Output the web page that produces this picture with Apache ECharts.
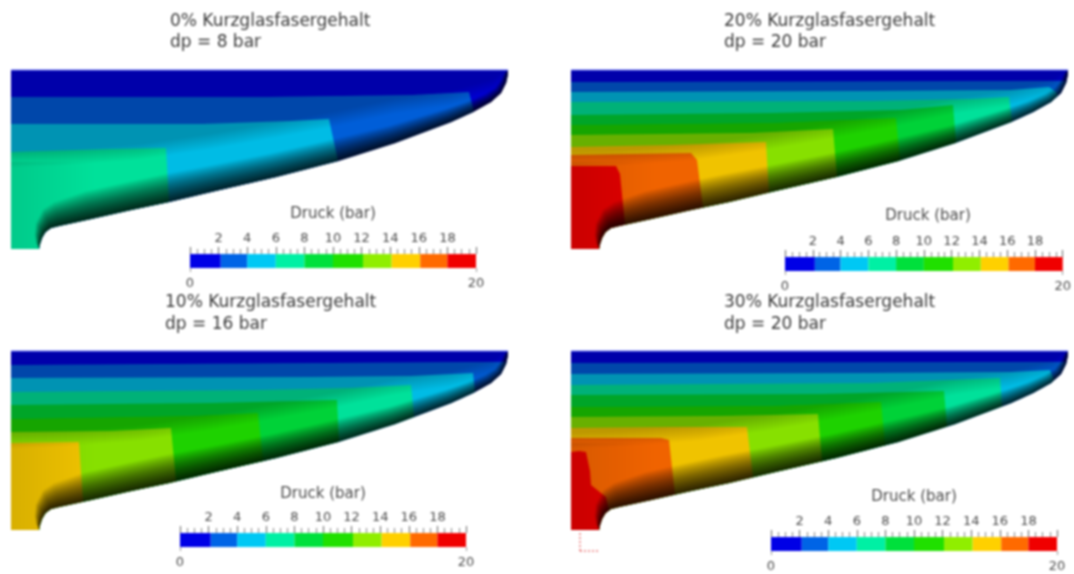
<!DOCTYPE html>
<html><head><meta charset="utf-8">
<style>html,body{margin:0;padding:0;background:#fff}#chart{width:1074px;height:574px;filter:blur(0.8px)}</style>
<script src="https://cdn.jsdelivr.net/npm/echarts@6/dist/echarts.min.js"></script>
</head><body><div id="chart"></div>
<script>
// ---- data ----
const pressureBreaks = [0,2.15,4,6,8,10,12.1,14.1,16.1,18,20];
const pressureColors = ['#0000e6','#0064e6','#00c8f4','#00f0a4','#00e03c','#20e000','#90ee00','#ffd000','#ff6a00','#f00000'];
const topTicks = [2,4,6,8,10,12,14,16,18];
const panelHeads = [['0% Kurzglasfasergehalt','dp = 8 bar'],['20% Kurzglasfasergehalt','dp = 20 bar'],['10% Kurzglasfasergehalt','dp = 16 bar'],['30% Kurzglasfasergehalt','dp = 20 bar']];
const legendTitle = 'Druck (bar)';
// channel wall, tip to inlet (length, depth)
const wallLine = [[497,0],[497,4],[495,13],[490,23],[480,32],[462,42],[440,52],[384,73],[327,91],[265,107],[200,122],[158,132],[120,140],[80,149],[48,156],[40,158],[34.5,162],[31,168],[29,174],[28,179]];
const wallShade = [0,4,6,8,10,12,14,18,22,24,26,28,28,28,24,20,13,8,4,0];
const inletCorner = [0,179];
const foldLine = [[0,90],[50,88],[128,82],[197,72],[265,60],[328,48],[384,36],[439,28],[481,17],[497,6]];
const inletDarkening = [[0,92],[85,92],[85,148],[48,156],[40,158],[34.5,162],[31,168],[29,174],[28,179],[0,179]];
// isobars: last entry is the length at which the isobar meets the wall
const isobars0 = [[[0,27],[250,27],[400,25],[458,22],[463]],[[0,54],[192,54],[280,51],[318,49],[327]],[[0,82],[100,79],[155,78],[158]]];
const isobars20 = [[[0,12],[495.5]],[[0,22],[300,21],[440,20],[478,17],[485,22],[487]],[[0,32],[300,31],[400,29],[438,27],[441]],[[0,45],[200,43],[330,40],[382,35],[385]],[[0,55],[200,53],[325,48],[329]],[[0,65],[180,63],[262,59],[266]],[[0,77],[100,75],[195,72],[198]],[[0,85],[60,84],[120,83],[126,90],[132]],[[0,96],[45,96],[49,104],[54]]];
const isobars10 = [[[0,14],[495.5]],[[0,27],[300,26],[400,25],[462,22],[464]],[[0,41],[250,39],[340,37],[400,34],[403]],[[0,54],[200,52],[326,49],[328]],[[0,68],[180,65],[247,62],[252]],[[0,81],[100,80],[160,77],[165]],[[0,92],[68,91],[72]]];
const isobars30 = [[[0,12],[495.5]],[[0,23],[300,22],[440,21],[479,19],[483]],[[0,34],[300,32],[429,27],[431]],[[0,44],[250,43],[373,40],[376]],[[0,56],[200,55],[310,51],[314]],[[0,66],[150,65],[247,63],[251]],[[0,77],[100,76],[176,76],[182]],[[0,87],[90,87],[98,89],[104]],[[0,101],[8,100],[15,101],[19,120],[20,134],[35,146],[38]]];
const triadAxes = [[[9,182],[9,200]],[[9,200],[29,200]]];

// ---- layout (pixels) ----
const panelBoxes = [[11,70,180],[571,70,180],[11,351,180],[571,351,180]];
const headPos = [[170,13,34],[724,13,34],[165,294,316],[724,294,316]];
const legendBoxes = [[190,254,213],[785,257,215],[180,533,493],[771,537,496]];
const isobarSets = [isobars0,isobars20,isobars10,isobars30];

function wallY(x){
  for(let i=0;i<wallLine.length-1;i++){const a=wallLine[i],b=wallLine[i+1];
    if(x<=a[0]&&x>=b[0]&&a[0]!==b[0]) return a[1]+(b[1]-a[1])*(a[0]-x)/(a[0]-b[0]);}
  return 0;
}
function region(iso){
  const pts=iso.map(p=>p.length===2?p:[p[0],wallY(p[0])]);
  const endX=pts[pts.length-1][0];
  return pts.concat(wallLine.filter(p=>p[0]<endX),[inletCorner]);
}
function wallOffset(f){
  const out=[];
  for(let i=0;i<wallLine.length;i++){
    const a=wallLine[Math.max(0,i-1)],b=wallLine[Math.min(wallLine.length-1,i+1)];
    let tx=b[0]-a[0],ty=b[1]-a[1];const l=Math.hypot(tx,ty);tx/=l;ty/=l;
    out.push([wallLine[i][0]-ty*wallShade[i]*f,wallLine[i][1]+tx*wallShade[i]*f]);
  }
  return out;
}
const fullShape=[[0,0]].concat(wallLine,[inletCorner]);
const shadeLayers=[];
const N=22;
for(let k=1;k<=N;k++){
  shadeLayers.push({pts:wallLine.concat(wallOffset(Math.pow(k/N,1.5)).reverse()),fill:'rgba(0,0,0,0.075)'});
}
const lightLayers=[{pts:fullShape,fill:'rgba(0,0,0,0.06)'}];
[-7,-5,-3,-1,1,3,5,7].forEach(s=>lightLayers.push({pts:foldLine.map(p=>[p[0],p[1]+s]).concat([[497,0],[0,0]]),fill:'rgba(0,0,0,0.027)'}));
lightLayers.push({pts:inletDarkening,fill:new echarts.graphic.LinearGradient(0,0,1,0,[{offset:0,color:'rgba(0,0,0,0.1)'},{offset:1,color:'rgba(0,0,0,0)'}])});

function polySeries(i,items,z){
  return {type:'custom',xAxisIndex:i,yAxisIndex:i,silent:true,animation:false,clip:false,z:z,
    data:items.map((_,n)=>[n]),
    encode:{x:0,y:0},
    renderItem:(params,api)=>{
      const it=items[params.dataIndex];
      return {type:'polygon',shape:{points:it.pts.map(p=>api.coord(p))},style:{fill:it.fill}};
    }};
}
const grids=[],xAxes=[],yAxes=[],series=[],titles=[];
panelBoxes.forEach((b,i)=>{
  grids.push({left:b[0],top:b[1],width:497,height:b[2]});
});
legendBoxes.forEach(b=>{grids.push({left:b[0],top:b[1],width:286,height:14});});
panelBoxes.forEach((b,i)=>{
  xAxes.push({type:'value',gridIndex:i,min:0,max:497,show:false});
  yAxes.push({type:'value',gridIndex:i,min:0,max:180,inverse:true,show:false});
  const items=[{pts:fullShape,fill:pressureColors[0]}].concat(isobarSets[i].map((iso,n)=>({pts:region(iso),fill:pressureColors[n+1]})));
  series.push(polySeries(i,items,2));
  series.push(polySeries(i,lightLayers.concat(shadeLayers),3));
  series.push({type:'custom',xAxisIndex:i,yAxisIndex:i,silent:true,animation:false,clip:false,z:4,data:[[0]],encode:{x:0,y:0},
    renderItem:(p,api)=>({type:'line',shape:{x1:api.coord([0,0])[0],y1:api.coord([0,0])[1],x2:api.coord([497,0])[0],y2:api.coord([497,0])[1]},style:{stroke:'rgba(110,120,255,0.9)',lineWidth:1}})});
});
legendBoxes.forEach((b,i)=>{
  const g=i+4;
  const labelStyle={color:'#4a4a4a',fontSize:13,fontFamily:'DejaVu Sans',margin:9};
  xAxes.push({type:'value',gridIndex:g,position:'top',min:0,max:20,interval:2,z:5,
    axisLine:{show:false,onZero:false},splitLine:{show:false},
    axisTick:{show:true,length:7,lineStyle:{color:'#666',width:1}},
    minorTick:{show:true,splitNumber:4,length:5,lineStyle:{color:'#888',width:1}},
    axisLabel:Object.assign({},labelStyle,{formatter:v=>topTicks.includes(v)?String(v):''})});
  yAxes.push({type:'value',gridIndex:g,min:0,max:1,show:false});
});
legendBoxes.forEach((b,i)=>{
  const g=i+4;
  xAxes.push({type:'value',gridIndex:g,position:'bottom',min:0,max:20,interval:20,z:5,
    axisLine:{show:false,onZero:false},splitLine:{show:false},
    axisTick:{show:true,length:4,lineStyle:{color:'#999',width:1}},
    axisLabel:{color:'#4a4a4a',fontSize:13,fontFamily:'DejaVu Sans',margin:9,showMinLabel:true,showMaxLabel:true}});
  series.push({type:'custom',xAxisIndex:g,yAxisIndex:g,silent:true,animation:false,clip:false,z:2,
    data:pressureColors.map((c,n)=>[pressureBreaks[n],pressureBreaks[n+1]]),
    encode:{x:[0,1]},
    renderItem:(p,api)=>{
      const a=api.coord([api.value(0),1]),c=api.coord([api.value(1),0]);
      return {type:'rect',shape:{x:a[0],y:a[1],width:c[0]-a[0],height:c[1]-a[1]},style:{fill:pressureColors[p.dataIndex]}};
    }});
});
// small coordinate triad below the fourth panel
series.push({type:'custom',xAxisIndex:3,yAxisIndex:3,silent:true,animation:false,clip:false,z:4,
  data:triadAxes.map((_,n)=>[n]),encode:{x:0,y:0},
  renderItem:(p,api)=>{
    const t=triadAxes[p.dataIndex],a=api.coord(t[0]),c=api.coord(t[1]);
    return {type:'line',shape:{x1:a[0],y1:a[1],x2:c[0],y2:c[1]},style:{stroke:'#e23a3a',lineWidth:1,lineDash:[2,2]}};
  }});
panelHeads.forEach((h,i)=>{
  h.forEach((t,j)=>titles.push({text:t,left:headPos[i][0],top:headPos[i][j+1],textStyle:{fontFamily:'DejaVu Sans',fontSize:17,fontWeight:'normal',color:'#3a3a3a'},padding:0}));
});
legendBoxes.forEach(b=>{
  titles.push({text:legendTitle,left:b[0]+143,top:b[2]-6,textAlign:'center',textStyle:{fontFamily:'DejaVu Sans',fontSize:15,fontWeight:'normal',color:'#4a4a4a'},padding:0});
});
const chart=echarts.init(document.getElementById('chart'),null,{renderer:'canvas'});
chart.setOption({animation:false,backgroundColor:'#ffffff',title:titles,grid:grids,xAxis:xAxes,yAxis:yAxes,series:series,tooltip:{show:false},legend:{show:false}});
</script></body></html>
